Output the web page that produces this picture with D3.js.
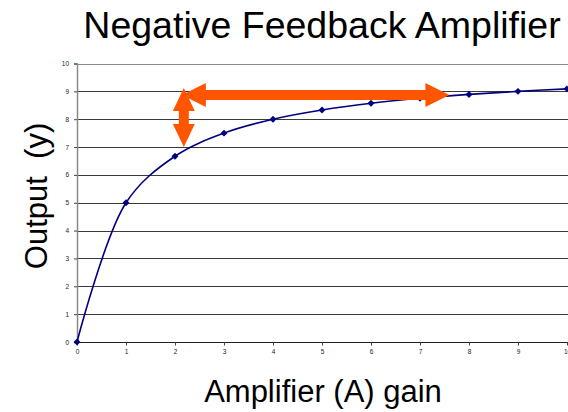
<!DOCTYPE html>
<html>
<head>
<meta charset="utf-8">
<script src="https://cdn.jsdelivr.net/npm/d3@7"></script>
<style>
  html, body { margin: 0; padding: 0; background: #fff; }
  svg { display: block; }
  text { font-family: "Liberation Sans", Arial, sans-serif; }
</style>
</head>
<body>
<svg id="chart" width="568" height="412"></svg>
<script>
// ---- data ----
const gain = [0, 1, 2, 3, 4, 5, 6, 7, 8, 9, 10];
const output = [0, 5, 6.67, 7.5, 8, 8.33, 8.57, 8.75, 8.89, 9, 9.09];
const xTicks = [0, 1, 2, 3, 4, 5, 6, 7, 8, 9, 10];
const yTicks = [0, 1, 2, 3, 4, 5, 6, 7, 8, 9, 10];
// annotation arrows, in data units: [x1, y1, x2, y2]
const hArrow = [2.14, 8.87, 7.6, 8.87];
const vArrow = [2.18, 9.12, 2.18, 7.0];

const title = "Negative Feedback Amplifier";
const xTitle = "Amplifier (A) gain";
const yTitle = "Output  (y)";

// ---- layout ----
const svg = d3.select("#chart");
const x = d3.scaleLinear().domain([0, 10]).range([77, 567]);
const y = d3.scaleLinear().domain([0, 10]).range([342, 63.5]);

// gridlines
svg.append("g")
  .selectAll("line")
  .data(yTicks.filter(d => d > 0))
  .join("line")
  .attr("x1", x(0)).attr("x2", 568)
  .attr("y1", d => Math.round(y(d)) + 0.5).attr("y2", d => Math.round(y(d)) + 0.5)
  .attr("stroke", d => d === 10 ? "#8c8c8c" : "#3a3a3a")
  .attr("stroke-width", 1);

// x axis
const xAxis = svg.append("g")
  .attr("transform", `translate(0,${Math.round(y(0)) + 0.5})`)
  .call(d3.axisBottom(x).tickValues(xTicks).tickSize(3).tickPadding(4).tickFormat(d3.format("d")));
xAxis.select(".domain").attr("stroke", "#222").attr("d", `M${x(0)},0H568`);
xAxis.selectAll(".tick line").attr("stroke", "#444");
xAxis.selectAll(".tick text").attr("font-size", 6.5).attr("fill", "#222")
  .style("font-family", "'Liberation Sans', Arial, sans-serif");

// y axis
const yAxis = svg.append("g")
  .attr("transform", `translate(${x(0)},0)`)
  .call(d3.axisLeft(y).tickValues(yTicks).tickSize(3).tickPadding(5).tickFormat(d3.format("d")));
yAxis.select(".domain").attr("stroke", "#8a8a8a").attr("stroke-width", 1.5);
yAxis.selectAll(".tick line").attr("stroke", "#444");
yAxis.selectAll(".tick text").attr("font-size", 6.5).attr("fill", "#222")
  .style("font-family", "'Liberation Sans', Arial, sans-serif");

// series line
const pts = gain.map((g, i) => [g, output[i]]);
svg.append("path")
  .datum(pts)
  .attr("fill", "none")
  .attr("stroke", "#000080")
  .attr("stroke-width", 1.6)
  .attr("d", d3.line().x(d => x(d[0])).y(d => y(d[1])).curve(d3.curveCatmullRom.alpha(0.5)));

// markers (diamonds)
svg.append("g")
  .selectAll("path")
  .data(pts)
  .join("path")
  .attr("transform", d => `translate(${x(d[0])},${y(d[1])}) rotate(45)`)
  .attr("d", d3.symbol().type(d3.symbolSquare).size(24))
  .attr("fill", "#000080");

// arrows
function doubleArrow(x1, y1, x2, y2, shaftW, headW, headL) {
  const dx = x2 - x1, dy = y2 - y1;
  const len = Math.hypot(dx, dy);
  const ux = dx / len, uy = dy / len;
  const nx = -uy, ny = ux;
  const P = (t, s) => [x1 + ux * t + nx * s, y1 + uy * t + ny * s];
  const p = [
    P(0, 0),
    P(headL, headW / 2),
    P(headL, shaftW / 2),
    P(len - headL, shaftW / 2),
    P(len - headL, headW / 2),
    P(len, 0),
    P(len - headL, -headW / 2),
    P(len - headL, -shaftW / 2),
    P(headL, -shaftW / 2),
    P(headL, -headW / 2)
  ];
  return "M" + p.map(q => q.join(",")).join("L") + "Z";
}
const arrowColor = "#ff5500";
svg.append("path")
  .attr("d", doubleArrow(x(hArrow[0]), y(hArrow[1]), x(hArrow[2]), y(hArrow[3]), 10, 24, 24))
  .attr("fill", arrowColor);
svg.append("path")
  .attr("d", doubleArrow(x(vArrow[0]), y(vArrow[1]), x(vArrow[2]), y(vArrow[3]), 10, 22, 23))
  .attr("fill", arrowColor);

// titles
svg.append("text")
  .attr("x", 322).attr("y", 38)
  .attr("text-anchor", "middle")
  .attr("font-size", 37.5)
  .attr("fill", "#000")
  .text(title);

svg.append("text")
  .attr("x", 323).attr("y", 402)
  .attr("text-anchor", "middle")
  .attr("font-size", 31)
  .attr("fill", "#000")
  .text(xTitle);

svg.append("text")
  .attr("transform", "translate(47,196) rotate(-90)")
  .attr("text-anchor", "middle")
  .attr("font-size", 31)
  .attr("fill", "#000")
  .style("white-space", "pre")
  .text(yTitle);
</script>
</body>
</html>
